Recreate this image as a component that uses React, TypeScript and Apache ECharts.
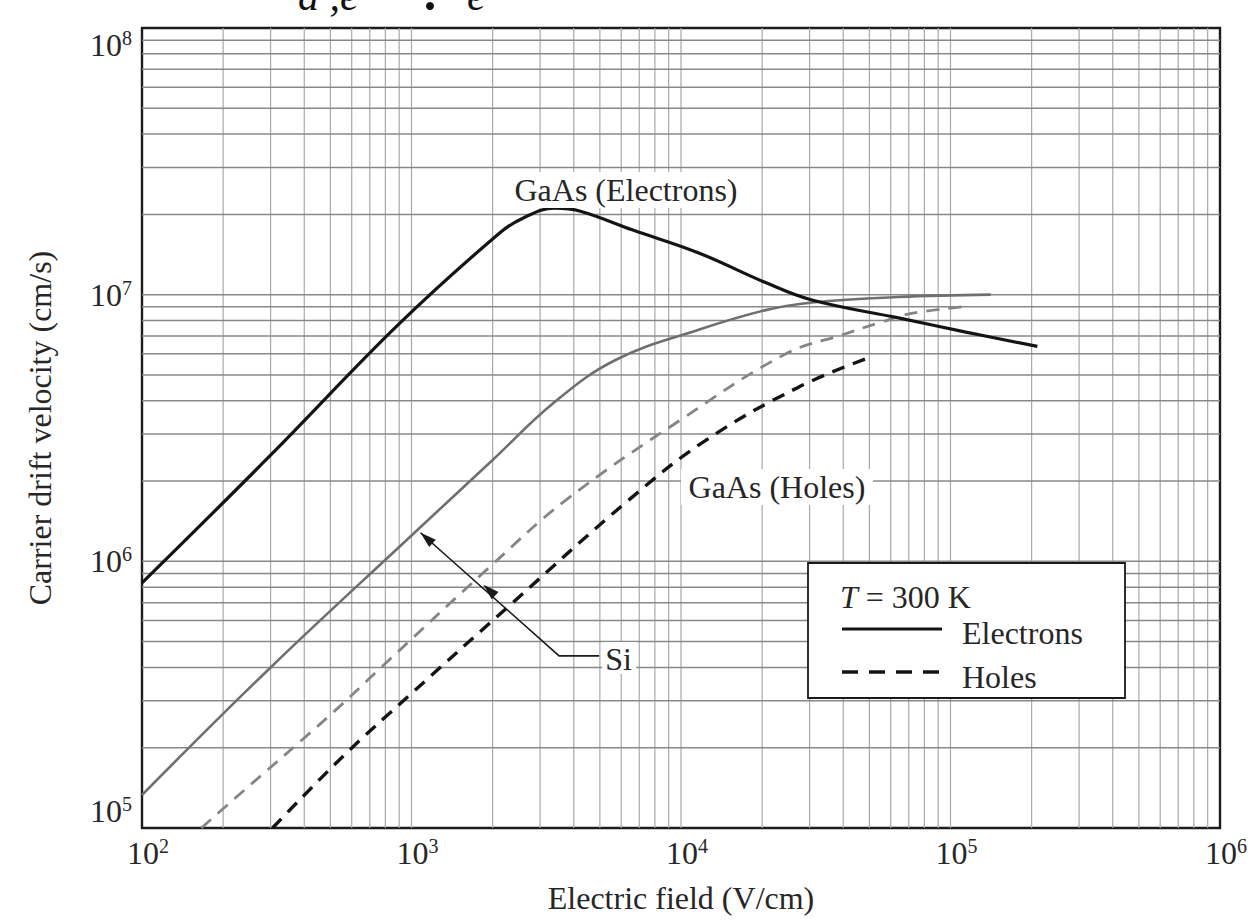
import React, { useEffect, useRef } from "react";
import * as echarts from "echarts";

// Electric field (V/cm) and drift velocity (cm/s) for each curve
const FIELD_GAAS_E = [100, 300, 903, 2118, 2600, 3390, 4200, 6590, 11700, 20600, 30600, 64100, 114000, 210000];
const VEL_GAAS_E = [8.3e5, 2.5e6, 7.8e6, 1.7e7, 1.94e7, 2.11e7, 2.06e7, 1.75e7, 1.43e7, 1.11e7, 9.55e6, 8.18e6, 7.24e6, 6.4e6];

const FIELD_SI_E = [100, 300, 1000, 2000, 3390, 5740, 11700, 20600, 30600, 64000, 141000];
const VEL_SI_E = [1.33e5, 4.0e5, 1.25e6, 2.4e6, 3.95e6, 5.7e6, 7.4e6, 8.75e6, 9.35e6, 9.8e6, 1.0e7];

const FIELD_SI_H = [166, 217, 509, 761, 1945, 3750, 10000, 24500, 39500, 55500, 71700, 110000];
const VEL_SI_H = [1.0e5, 1.27e5, 2.7e5, 3.95e5, 9.5e5, 1.7e6, 3.4e6, 6.0e6, 7.06e6, 7.9e6, 8.5e6, 9.0e6];

const FIELD_GAAS_H = [305, 555, 984, 2300, 6410, 12400, 27300, 49700];
const VEL_GAAS_H = [1.0e5, 1.85e5, 3.15e5, 6.8e5, 1.7e6, 2.85e6, 4.5e6, 5.8e6];

// Axis decades and tick label exponents
const X_DECADES = [100, 1000, 10000, 100000, 1000000];
const X_EXPONENTS = ["2", "3", "4", "5", "6"];
const Y_DECADES = [1e5, 1e6, 1e7, 1e8];
const Y_EXPONENTS = ["5", "6", "7", "8"];
const GRID_MULTIPLES = [1, 2, 3, 4, 5, 6, 7, 8, 9];

// Annotation anchors in data coordinates
const SI_ARROW_TIP = [1080, 1.28e6];
const SI_ARROW_MID = [1849, 8.17e5];
const SI_ARROW_BEND = [3530, 4.42e5];
const SI_ARROW_END = [4970, 4.42e5];
const LABEL_GAAS_E = [6250, 2.47e7];
const LABEL_GAAS_H = [22700, 1.9e6];

const SERIF = "'Liberation Serif', 'Times New Roman', serif";
const TEXT = "#262626";

function zip(xs: number[], ys: number[]) {
  return xs.map((x, i) => [x, ys[i]]);
}

function gridValues(decades: number[]) {
  const out: number[] = [];
  for (let d = 0; d < decades.length - 1; d++) {
    for (const m of GRID_MULTIPLES) {
      if (d === 0 && m === 1) continue;
      out.push(decades[d] * m);
    }
  }
  return out;
}

function arrowHead(tip: number[], from: number[], len: number, half: number) {
  const dx = tip[0] - from[0];
  const dy = tip[1] - from[1];
  const l = Math.hypot(dx, dy);
  const ux = dx / l;
  const uy = dy / l;
  const bx = tip[0] - ux * len;
  const by = tip[1] - uy * len;
  return [
    [tip[0], tip[1]],
    [bx - uy * half, by + ux * half],
    [bx + uy * half, by - ux * half],
  ];
}

export default function App() {
  const ref = useRef<HTMLDivElement>(null);

  useEffect(() => {
    if (!ref.current) return;
    const chart = echarts.init(ref.current, undefined, { renderer: "svg" });

    const xMin = X_DECADES[0];
    const xMax = X_DECADES[X_DECADES.length - 1];
    const yMin = Y_DECADES[0];
    const yMax = Y_DECADES[Y_DECADES.length - 1];

    const vGrid = gridValues(X_DECADES).map((v) => ({
      type: "line",
      silent: true,
      symbol: "none",
      z: 1,
      lineStyle: { color: "#a8a8a8", width: 1.2 },
      data: [
        [v, yMin],
        [v, yMax],
      ],
    }));
    const hGrid = gridValues(Y_DECADES).map((v) => ({
      type: "line",
      silent: true,
      symbol: "none",
      z: 1,
      lineStyle: { color: "#888888", width: 1.5 },
      data: [
        [xMin, v],
        [xMax, v],
      ],
    }));

    const curve = (data: number[][], color: string, width: number, dashed: boolean) => ({
      type: "line",
      silent: true,
      symbol: "none",
      smooth: 0.4,
      z: 5,
      lineStyle: {
        color,
        width,
        type: dashed ? [13, 9] : "solid",
        cap: "butt",
      },
      data,
    });

    const labelRich = {
      b: { fontFamily: SERIF, fontSize: 32, color: TEXT, lineHeight: 34 },
      s: { fontFamily: SERIF, fontSize: 20, color: TEXT, verticalAlign: "top", lineHeight: 34, padding: [0, 0, 10, 0] },
    };

    chart.setOption({
      animation: false,
      backgroundColor: "#ffffff",
      grid: {
        left: 142,
        top: 28,
        width: 1078,
        height: 800,
        show: true,
        containLabel: false,
        outerBoundsMode: "none",
        borderColor: "#1c1c1c",
        borderWidth: 2.4,
        backgroundColor: "transparent",
      },
      xAxis: {
        type: "log",
        logBase: 10,
        min: xMin,
        max: xMax,
        interval: 1,
        axisLine: { show: false },
        axisTick: { show: false },
        splitLine: { show: false },
        axisLabel: {
          margin: 8,
          formatter: (_v: number, i: number) => `{p|}{b|10}{s|${X_EXPONENTS[i]}}`,
          rich: { ...labelRich, p: { width: 12 } },
        },
        name: "Electric field (V/cm)",
        nameLocation: "middle",
        nameGap: 54,
        nameTextStyle: { fontFamily: SERIF, fontSize: 32, color: TEXT },
      },
      yAxis: {
        type: "log",
        logBase: 10,
        min: yMin,
        max: yMax,
        interval: 1,
        axisLine: { show: false },
        axisTick: { show: false },
        splitLine: { show: false },
        axisLabel: {
          margin: 10,
          verticalAlignMinLabel: "bottom",
          verticalAlignMaxLabel: "top",
          formatter: (_v: number, i: number) => `{b|10}{s|${Y_EXPONENTS[i]}}`,
          rich: labelRich,
        },
        name: "Carrier drift velocity (cm/s)",
        nameLocation: "middle",
        nameGap: 86,
        nameTextStyle: { fontFamily: SERIF, fontSize: 32, color: TEXT },
      },
      series: [
        ...vGrid,
        ...hGrid,
        curve(zip(FIELD_SI_E, VEL_SI_E), "#6f6f6f", 2.6, false),
        curve(zip(FIELD_SI_H, VEL_SI_H), "#858585", 2.8, true),
        curve(zip(FIELD_GAAS_H, VEL_GAAS_H), "#141414", 3.4, true),
        curve(zip(FIELD_GAAS_E, VEL_GAAS_E), "#141414", 3.2, false),
      ],
    });

    const px = (p: number[]) => chart.convertToPixel({ xAxisIndex: 0, yAxisIndex: 0 }, p) as number[];
    const tip = px(SI_ARROW_TIP);
    const mid = px(SI_ARROW_MID);
    const bend = px(SI_ARROW_BEND);
    const end = px(SI_ARROW_END);
    const gaE = px(LABEL_GAAS_E);
    const gaH = px(LABEL_GAAS_H);

    const box = { x: 808, y: 563, w: 317, h: 135 };

    chart.setOption({
      graphic: [
        // fragment of the formula line above the plot
        {
          type: "text",
          x: 298,
          y: 17,
          z: 20,
          style: { text: "d ,e", font: `italic 42px ${SERIF}`, fill: "#111", verticalAlign: "bottom" },
        },
        {
          type: "text",
          x: 467,
          y: 17,
          z: 20,
          style: { text: "e", font: `italic 42px ${SERIF}`, fill: "#111", verticalAlign: "bottom" },
        },
        { type: "circle", z: 20, shape: { cx: 430, cy: 6, r: 4 }, style: { fill: "#111" } },
        // curve labels
        {
          type: "rect",
          z: 19,
          shape: { x: gaE[0] - 122, y: gaE[1] - 18, width: 244, height: 36 },
          style: { fill: "#ffffff" },
        },
        {
          type: "text",
          x: gaE[0],
          y: gaE[1],
          z: 20,
          style: { text: "GaAs (Electrons)", font: `32px ${SERIF}`, fill: TEXT, align: "center", verticalAlign: "middle" },
        },
        {
          type: "rect",
          z: 19,
          shape: { x: gaH[0] - 96, y: gaH[1] - 18, width: 192, height: 36 },
          style: { fill: "#ffffff" },
        },
        {
          type: "text",
          x: gaH[0],
          y: gaH[1],
          z: 20,
          style: { text: "GaAs (Holes)", font: `32px ${SERIF}`, fill: TEXT, align: "center", verticalAlign: "middle" },
        },
        // Si pointer
        {
          type: "polyline",
          z: 20,
          shape: { points: [tip, bend, end] },
          style: { stroke: "#1a1a1a", lineWidth: 1.6, fill: "none" },
        },
        { type: "polygon", z: 21, shape: { points: arrowHead(tip, bend, 16, 5) }, style: { fill: "#1a1a1a" } },
        { type: "polygon", z: 21, shape: { points: arrowHead(mid, bend, 16, 5) }, style: { fill: "#1a1a1a" } },
        {
          type: "rect",
          z: 19,
          shape: { x: end[0] + 3, y: end[1] - 14, width: 34, height: 32 },
          style: { fill: "#ffffff" },
        },
        {
          type: "text",
          x: end[0] + 6,
          y: end[1] + 3,
          z: 20,
          style: { text: "Si", font: `32px ${SERIF}`, fill: TEXT, align: "left", verticalAlign: "middle" },
        },
        // key box
        {
          type: "rect",
          z: 30,
          shape: { x: box.x, y: box.y, width: box.w, height: box.h },
          style: { fill: "#ffffff", stroke: "#1a1a1a", lineWidth: 1.8 },
        },
        {
          type: "text",
          x: 840,
          y: 597,
          z: 31,
          style: {
            text: "{i|T} = 300 K",
            font: `32px ${SERIF}`,
            fill: TEXT,
            verticalAlign: "middle",
            rich: { i: { font: `italic 32px ${SERIF}`, fill: TEXT } },
          },
        },
        {
          type: "line",
          z: 31,
          shape: { x1: 842, y1: 629, x2: 942, y2: 629 },
          style: { stroke: "#141414", lineWidth: 3.2 },
        },
        {
          type: "text",
          x: 962,
          y: 633,
          z: 31,
          style: { text: "Electrons", font: `32px ${SERIF}`, fill: TEXT, verticalAlign: "middle" },
        },
        {
          type: "line",
          z: 31,
          shape: { x1: 842, y1: 672, x2: 942, y2: 672 },
          style: { stroke: "#141414", lineWidth: 3.4, lineDash: [16, 11] },
        },
        {
          type: "text",
          x: 962,
          y: 677,
          z: 31,
          style: { text: "Holes", font: `32px ${SERIF}`, fill: TEXT, verticalAlign: "middle" },
        },
      ],
    });

    return () => chart.dispose();
  }, []);

  return (
    <div
      ref={ref}
      style={{ position: "fixed", left: 0, top: 0, width: 1251, height: 920, background: "#fff" }}
    />
  );
}
